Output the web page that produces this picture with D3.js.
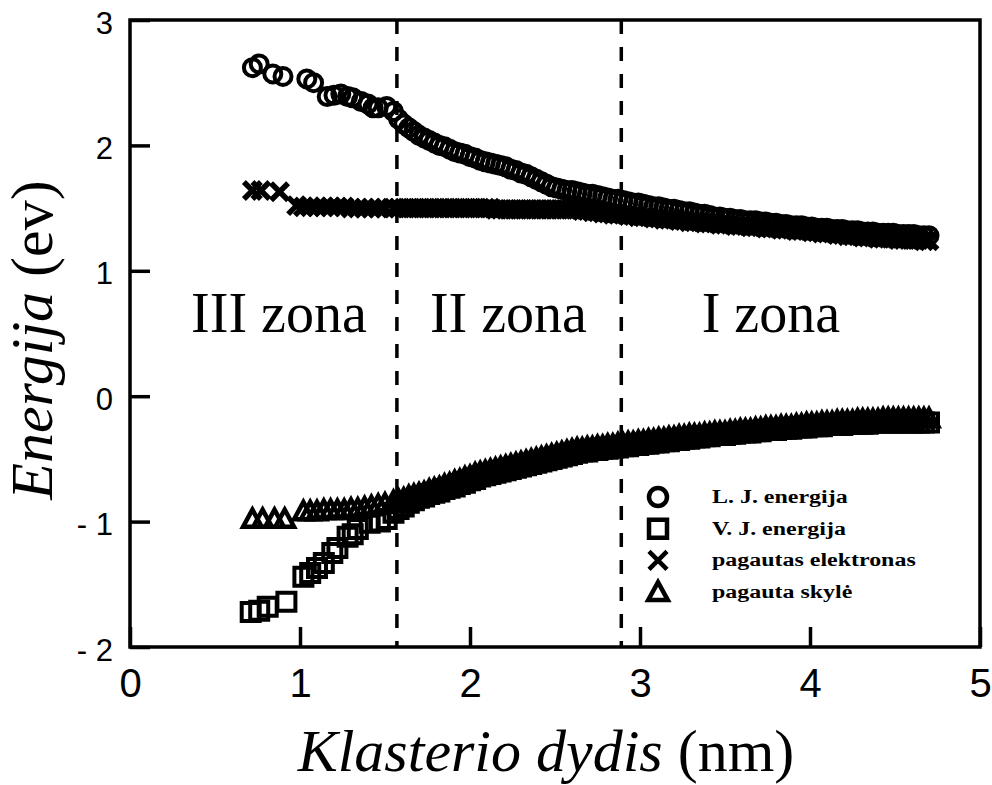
<!DOCTYPE html>
<html>
<head>
<meta charset="utf-8">
<script src="https://cdn.jsdelivr.net/npm/d3@7"></script>
<style>
body{margin:0;background:#fff;}
</style>
</head>
<body>
<svg id="plot" width="992" height="785"></svg>
<script>
// axis ticks and annotations
var xTicks = [0, 1, 2, 3, 4, 5];
var yTicks = [-2, -1, 0, 1, 2, 3];
var zoneBounds = [1.57, 2.89];
var zoneNames = ["III zona", "II zona", "I zona"];
var legendNames = ["L. J. energija", "V. J. energija", "pagautas elektronas", "pagauta skylė"];

// small clusters, markers still apart
var ljX = [0.72,0.76,0.84,0.90,1.04,1.08,1.16,1.20,1.24,1.28,1.31,1.36,1.40,1.43,1.46,1.51];
var ljY = [2.62,2.65,2.57,2.55,2.53,2.50,2.39,2.40,2.41,2.39,2.38,2.35,2.33,2.30,2.30,2.31];
var vjX = [0.71,0.76,0.81,0.92,1.02,1.06,1.10,1.14,1.19,1.22,1.28,1.31,1.34,1.41,1.47,1.51];
var vjY = [-1.72,-1.71,-1.68,-1.64,-1.44,-1.41,-1.37,-1.33,-1.25,-1.21,-1.12,-1.10,-1.06,-1.01,-1.00,-0.98];
var elX = [0.72,0.77,0.88,0.98,1.02,1.06,1.10,1.14,1.18,1.22,1.26,1.30,1.34,1.38,1.42,1.46,1.50];
var elY = [1.64,1.64,1.63,1.52,1.51,1.51,1.51,1.51,1.51,1.51,1.51,1.50,1.50,1.50,1.50,1.50,1.50];
var skX = [0.72,0.78,0.85,0.91,1.02,1.06,1.10,1.14,1.18,1.22,1.26,1.30,1.34,1.38,1.42,1.46,1.50];
var skY = [-0.98,-0.98,-0.98,-0.98,-0.92,-0.92,-0.92,-0.91,-0.91,-0.91,-0.91,-0.90,-0.90,-0.89,-0.88,-0.87,-0.86];

// larger clusters, dense band (shared sizes)
var bandX = [
	1.55,1.58,1.61,1.64,1.67,1.70,1.73,1.76,1.79,1.82,
	1.85,1.88,1.91,1.94,1.97,2.00,2.03,2.06,2.09,2.12,
	2.15,2.18,2.21,2.24,2.27,2.30,2.33,2.36,2.39,2.42,
	2.45,2.48,2.51,2.54,2.57,2.60,2.63,2.66,2.69,2.72,
	2.75,2.78,2.81,2.84,2.87,2.90,2.93,2.96,2.99,3.02,
	3.05,3.08,3.11,3.14,3.17,3.20,3.23,3.26,3.29,3.32,
	3.35,3.38,3.41,3.44,3.47,3.50,3.53,3.56,3.59,3.62,
	3.65,3.68,3.71,3.74,3.77,3.80,3.83,3.86,3.89,3.92,
	3.95,3.98,4.01,4.04,4.07,4.10,4.13,4.16,4.19,4.22,
	4.25,4.28,4.31,4.34,4.37,4.40,4.43,4.46,4.49,4.52,
	4.55,4.58,4.61,4.64,4.67,4.70];
var ljBand = [
	2.27,2.21,2.17,2.14,2.11,2.08,2.06,2.04,2.02,2.00,
	1.99,1.97,1.95,1.94,1.93,1.91,1.90,1.88,1.87,1.86,
	1.85,1.84,1.83,1.81,1.80,1.78,1.77,1.75,1.73,1.71,
	1.69,1.67,1.66,1.65,1.64,1.64,1.63,1.62,1.61,1.61,
	1.60,1.59,1.58,1.57,1.57,1.56,1.55,1.54,1.54,1.53,
	1.52,1.51,1.51,1.50,1.49,1.49,1.48,1.47,1.47,1.46,
	1.45,1.45,1.44,1.43,1.43,1.42,1.42,1.41,1.41,1.40,
	1.40,1.40,1.39,1.39,1.38,1.38,1.37,1.37,1.36,1.36,
	1.36,1.35,1.35,1.34,1.34,1.34,1.33,1.33,1.33,1.32,
	1.32,1.32,1.31,1.31,1.31,1.30,1.30,1.30,1.30,1.29,
	1.29,1.29,1.29,1.28,1.28,1.28];
var elBand = [
	1.50,1.50,1.50,1.50,1.50,1.50,1.50,1.50,1.50,1.50,
	1.50,1.50,1.50,1.50,1.50,1.50,1.50,1.50,1.50,1.50,
	1.49,1.49,1.49,1.49,1.49,1.49,1.49,1.49,1.49,1.49,
	1.49,1.49,1.49,1.49,1.49,1.49,1.49,1.48,1.48,1.47,
	1.47,1.46,1.46,1.45,1.45,1.45,1.44,1.44,1.43,1.43,
	1.43,1.42,1.42,1.41,1.41,1.41,1.40,1.40,1.39,1.39,
	1.39,1.38,1.38,1.38,1.37,1.37,1.37,1.36,1.36,1.36,
	1.35,1.35,1.35,1.34,1.34,1.34,1.33,1.33,1.33,1.32,
	1.32,1.32,1.31,1.31,1.30,1.30,1.30,1.29,1.29,1.28,
	1.28,1.28,1.27,1.27,1.27,1.26,1.26,1.26,1.26,1.25,
	1.25,1.25,1.25,1.25,1.24,1.24];
var vjBand = [
	-0.93,-0.90,-0.88,-0.85,-0.83,-0.81,-0.80,-0.78,-0.77,-0.76,
	-0.74,-0.73,-0.72,-0.70,-0.69,-0.67,-0.66,-0.64,-0.63,-0.62,
	-0.61,-0.60,-0.59,-0.58,-0.57,-0.56,-0.55,-0.54,-0.53,-0.52,
	-0.51,-0.50,-0.49,-0.48,-0.47,-0.46,-0.45,-0.44,-0.44,-0.43,
	-0.43,-0.42,-0.42,-0.41,-0.41,-0.40,-0.40,-0.39,-0.39,-0.38,
	-0.38,-0.37,-0.37,-0.36,-0.36,-0.35,-0.35,-0.34,-0.34,-0.33,
	-0.33,-0.32,-0.32,-0.31,-0.31,-0.31,-0.30,-0.30,-0.29,-0.29,
	-0.29,-0.28,-0.28,-0.27,-0.27,-0.27,-0.26,-0.26,-0.26,-0.25,
	-0.25,-0.25,-0.24,-0.24,-0.24,-0.23,-0.23,-0.23,-0.23,-0.22,
	-0.22,-0.22,-0.22,-0.22,-0.21,-0.21,-0.21,-0.21,-0.21,-0.21,
	-0.21,-0.21,-0.21,-0.21,-0.21,-0.21];
var skBand = [
	-0.84,-0.83,-0.82,-0.80,-0.79,-0.78,-0.77,-0.75,-0.74,-0.73,
	-0.71,-0.70,-0.68,-0.67,-0.65,-0.64,-0.62,-0.61,-0.60,-0.59,
	-0.58,-0.57,-0.56,-0.55,-0.54,-0.53,-0.52,-0.51,-0.50,-0.49,
	-0.48,-0.47,-0.46,-0.45,-0.44,-0.43,-0.42,-0.42,-0.41,-0.41,
	-0.40,-0.40,-0.39,-0.39,-0.38,-0.38,-0.37,-0.37,-0.36,-0.36,
	-0.35,-0.35,-0.34,-0.34,-0.33,-0.33,-0.32,-0.32,-0.31,-0.31,
	-0.31,-0.30,-0.30,-0.29,-0.29,-0.29,-0.28,-0.28,-0.27,-0.27,
	-0.27,-0.26,-0.26,-0.25,-0.25,-0.25,-0.24,-0.24,-0.24,-0.23,
	-0.23,-0.22,-0.22,-0.22,-0.21,-0.21,-0.21,-0.20,-0.20,-0.20,
	-0.20,-0.19,-0.19,-0.19,-0.19,-0.19,-0.18,-0.18,-0.18,-0.18,
	-0.18,-0.18,-0.18,-0.18,-0.18,-0.18];

// marker shapes (size = half width)
var markCircle = {draw: function(c, r){ c.moveTo(r, 0); c.arc(0, 0, r, 0, 2*Math.PI); }};
var markSquare = {draw: function(c, r){ c.rect(-r, -r, 2*r, 2*r); }};
var markCross = {draw: function(c, r){ c.moveTo(-r, -r); c.lineTo(r, r); c.moveTo(r, -r); c.lineTo(-r, r); }};
var markTri = {draw: function(c, r){ c.moveTo(0, -r); c.lineTo(r*0.98, r*0.8); c.lineTo(-r*0.98, r*0.8); c.closePath(); }};

function pts(xs, ys){
	return xs.map(function(v, i){ return {x: v, y: ys[i]}; });
}

var series = [
	{name: legendNames[1], data: pts(vjX, vjY).concat(pts(bandX, vjBand)), type: markSquare, size: 9, sw: 4},
	{name: legendNames[3], data: pts(skX, skY).concat(pts(bandX, skBand)), type: markTri, size: 9.5, sw: 4.5},
	{name: legendNames[2], data: pts(elX, elY).concat(pts(bandX, elBand)), type: markCross, size: 8.5, sw: 5.5},
	{name: legendNames[0], data: pts(ljX, ljY).concat(pts(bandX, ljBand)), type: markCircle, size: 8.5, sw: 4}
];

var svg = d3.select("#plot");
svg.append("rect").attr("width", 992).attr("height", 785).attr("fill", "#fff");

var xscale = d3.scaleLinear().domain([0, 5]).range([130, 980]);
var yscale = d3.scaleLinear().domain([-2, 3]).range([647, 20]);

// markers
series.forEach(function(s){
	var sym = d3.symbol().type(s.type).size(s.size);
	svg.append("g").selectAll("path")
		.data(s.data)
		.enter()
		.append("path")
		.attr("transform", function(d){ return "translate(" + xscale(d.x) + "," + yscale(d.y) + ")"; })
		.attr("d", sym)
		.attr("fill", "none")
		.attr("stroke", "#000")
		.attr("stroke-width", s.sw);
});

// zone boundaries
svg.append("g").selectAll("line")
	.data(zoneBounds)
	.enter()
	.append("line")
	.attr("x1", d => xscale(d)).attr("x2", d => xscale(d))
	.attr("y1", yscale(3)).attr("y2", yscale(-2))
	.attr("stroke", "#000")
	.attr("stroke-width", 3.5)
	.attr("stroke-dasharray", "14,13");

// axes
var yAxis = d3.axisLeft(yscale)
	.tickValues(yTicks)
	.tickSize(-20)
	.tickPadding(17)
	.tickFormat(d => d < 0 ? "- " + Math.abs(d) : String(d));
var gy = svg.append("g").attr("transform", "translate(" + xscale(0) + ",0)").call(yAxis);
gy.select(".domain").remove();
gy.selectAll("line").attr("stroke-width", 3.5);
gy.selectAll("text").attr("font-family", "'Liberation Sans', Arial, sans-serif").attr("font-size", 31).attr("fill", "#000").attr("dy", "0.42em");

var xAxis = d3.axisBottom(xscale)
	.tickValues(xTicks)
	.tickSize(-20)
	.tickPadding(22)
	.tickFormat(d => String(d));
var gx = svg.append("g").attr("transform", "translate(0," + yscale(-2) + ")").call(xAxis);
gx.select(".domain").remove();
gx.selectAll("line").attr("stroke-width", 3.5);
gx.selectAll("text").attr("font-family", "'Liberation Sans', Arial, sans-serif").attr("font-size", 40).attr("fill", "#000");

// frame
svg.append("rect")
	.attr("x", xscale(0)).attr("y", yscale(3))
	.attr("width", xscale(5) - xscale(0)).attr("height", yscale(-2) - yscale(3))
	.attr("fill", "none").attr("stroke", "#000").attr("stroke-width", 3.5);

// zone names
var zoneAt = [0.876, 2.226, 3.77];
svg.append("g").selectAll("text")
	.data(zoneNames)
	.enter()
	.append("text")
	.attr("x", (d, i) => xscale(zoneAt[i]))
	.attr("y", yscale(0.51))
	.attr("text-anchor", "middle")
	.attr("font-family", "'Liberation Serif', 'Times New Roman', serif")
	.attr("font-size", 56)
	.text(d => d);

// axis titles
var serif = "'Liberation Serif', 'Times New Roman', serif";
var xt = svg.append("text")
	.attr("x", 546).attr("y", 771)
	.attr("text-anchor", "middle")
	.attr("font-family", serif).attr("font-size", 60);
xt.append("tspan").attr("font-style", "italic").text("Klasterio dydis");
xt.append("tspan").text(" (nm)");

var yt = svg.append("text")
	.attr("transform", "translate(52,340) rotate(-90)")
	.attr("text-anchor", "middle")
	.attr("font-family", serif).attr("font-size", 60);
yt.append("tspan").attr("font-style", "italic").text("Energija");
yt.append("tspan").text(" (ev)");

// legend
var legendOrder = [
	{type: markCircle, size: 9},
	{type: markSquare, size: 9},
	{type: markCross, size: 9},
	{type: markTri, size: 10}
];
var lg = svg.append("g");
legendNames.forEach(function(name, i){
	var ly = 497 + i * 31.7;
	lg.append("path")
		.attr("transform", "translate(658," + ly + ")")
		.attr("d", d3.symbol().type(legendOrder[i].type).size(legendOrder[i].size)())
		.attr("fill", "none").attr("stroke", "#000").attr("stroke-width", 4.5);
	lg.append("text")
		.attr("transform", "translate(712," + (ly + 6) + ") scale(1.26,1)")
		.attr("font-family", serif).attr("font-weight", "bold").attr("font-size", 19)
		.text(name);
});
</script>
</body>
</html>
